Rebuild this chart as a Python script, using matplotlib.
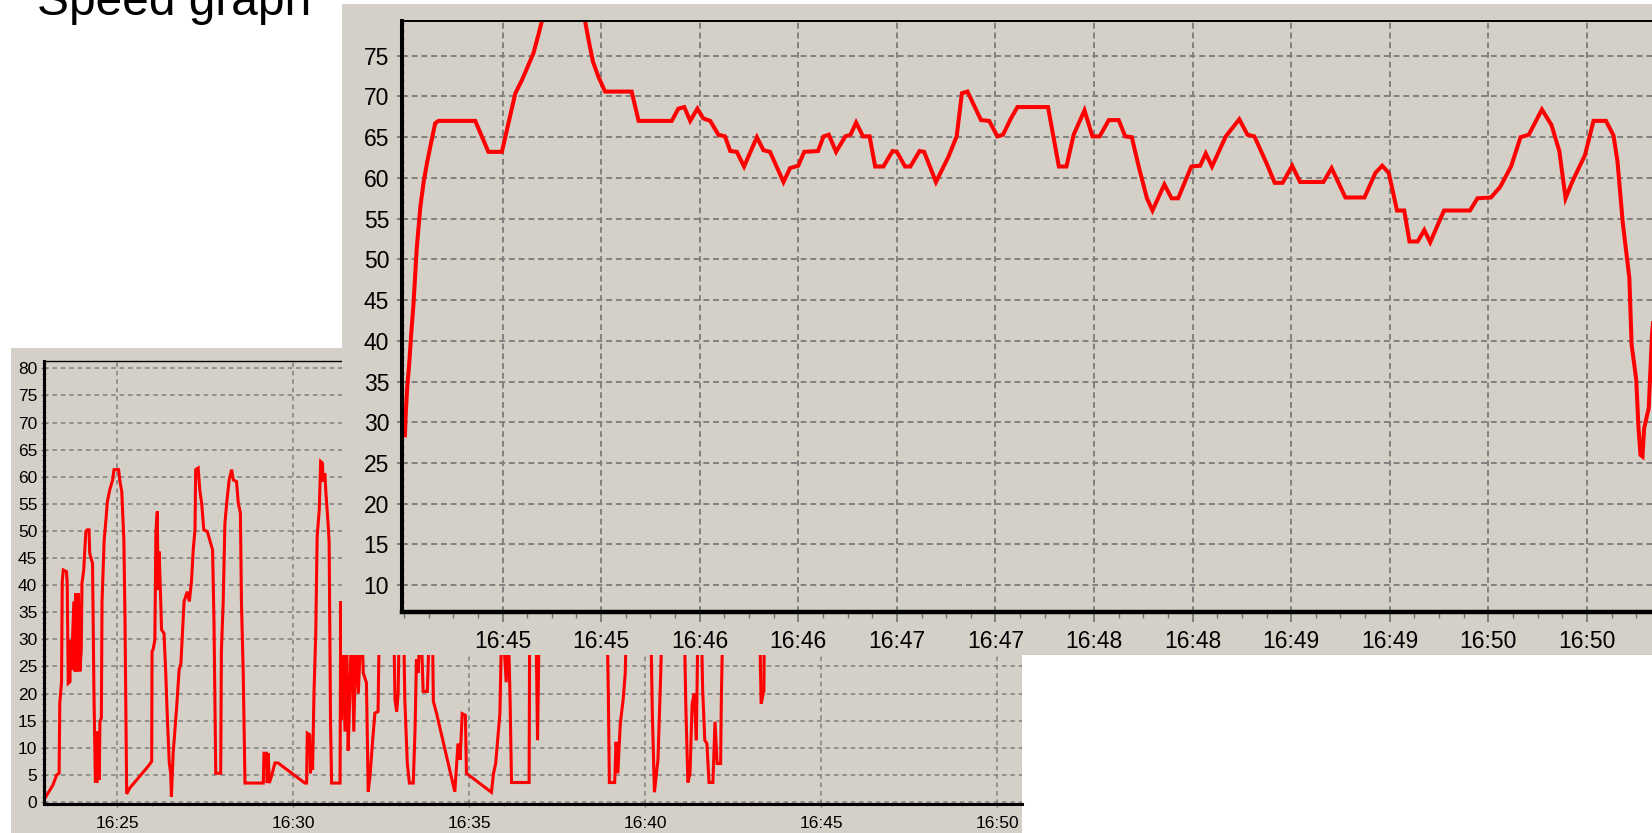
import matplotlib
matplotlib.use("Agg")
import matplotlib.pyplot as plt
from matplotlib.ticker import MultipleLocator, FixedLocator

# ---------------- data ----------------
# Overview chart: time in minutes after 16:00, speed
small_minutes = [22.93, 23.18, 23.28, 23.35, 23.37, 23.42, 23.44, 23.47, 23.56, 23.58,
                 23.61, 23.66, 23.67, 23.70, 23.73, 23.77, 23.80, 23.83, 23.86, 23.90,
                 23.94, 23.98, 24.00, 24.05, 24.11, 24.15, 24.20, 24.22, 24.30, 24.34,
                 24.38, 24.43, 24.45, 24.49, 24.51, 24.55, 24.57, 24.63, 24.68, 24.72,
                 24.79, 24.87, 24.91, 25.04, 25.08, 25.13, 25.19, 25.22, 25.27, 25.36,
                 25.88, 25.98, 25.99, 26.02, 26.07, 26.10, 26.14, 26.16, 26.19, 26.23,
                 26.26, 26.33, 26.38, 26.42, 26.48, 26.52, 26.54, 26.59, 26.64, 26.69,
                 26.76, 26.81, 26.86, 26.90, 26.99, 27.05, 27.11, 27.16, 27.21, 27.23,
                 27.30, 27.35, 27.40, 27.46, 27.56, 27.63, 27.71, 27.75, 27.80, 27.94,
                 27.96, 28.01, 28.06, 28.11, 28.18, 28.25, 28.30, 28.39, 28.44, 28.50,
                 28.53, 28.58, 28.63, 29.15, 29.17, 29.24, 29.26, 29.29, 29.32, 29.38,
                 29.48, 29.57, 30.33, 30.38, 30.40, 30.47, 30.49, 30.52, 30.55, 30.59,
                 30.64, 30.68, 30.74, 30.78, 30.83, 30.85, 30.90, 30.93, 30.99, 31.02,
                 31.06, 31.09, 31.33, 31.35, 31.37, 31.40, 31.47, 31.52, 31.56, 31.61,
                 31.66, 31.72, 31.78, 31.85, 31.94, 31.99, 32.08, 32.13, 32.18, 32.25,
                 32.32, 32.41, 32.46, 32.84, 32.89, 32.94, 32.98, 33.03, 33.13, 33.17,
                 33.24, 33.30, 33.41, 33.46, 33.50, 33.55, 33.62, 33.69, 33.81, 33.88,
                 33.96, 33.98, 34.07, 34.59, 34.68, 34.74, 34.80, 34.89, 34.92, 35.63,
                 35.69, 35.75, 35.87, 35.93, 36.05, 36.10, 36.16, 36.20, 36.70, 36.72,
                 36.88, 36.94, 37.00, 37.50, 38.30, 38.90, 38.95, 38.98, 39.13, 39.17,
                 39.22, 39.29, 39.37, 39.43, 39.49, 40.14, 40.20, 40.26, 40.36, 40.44,
                 40.50, 41.09, 41.15, 41.21, 41.27, 41.33, 41.39, 41.45, 41.51, 41.57,
                 41.63, 41.69, 41.75, 41.81, 41.92, 41.98, 42.04, 42.14, 42.16, 42.22,
                 43.23, 43.29, 43.37, 43.38]
small_speed = [0.5, 3.2, 5.0, 5.3, 18.2, 22.2, 40.7, 42.8, 42.5, 40.4,
               21.9, 22.2, 29.9, 24.4, 29.6, 37.0, 24.1, 38.5, 24.1, 38.5,
               24.1, 28.1, 40.4, 42.8, 49.9, 50.2, 50.2, 45.9, 44.0, 20.1,
               3.8, 3.8, 13.0, 4.1, 14.8, 15.5, 37.0, 48.3, 52.0, 55.4,
               57.6, 59.4, 61.3, 61.3, 59.1, 57.3, 48.3, 34.8, 1.5, 2.6,
               6.6, 7.5, 27.8, 28.1, 29.9, 49.9, 53.6, 39.1, 46.2, 38.5,
               31.8, 31.1, 23.8, 16.4, 7.2, 5.3, 1.0, 9.0, 13.3, 17.6,
               24.4, 25.6, 31.8, 37.0, 38.8, 37.0, 40.7, 46.5, 50.2, 61.3,
               61.6, 57.3, 55.1, 50.2, 49.9, 48.3, 46.5, 33.0, 5.3, 5.3,
               27.8, 36.7, 51.4, 55.1, 59.4, 61.3, 59.4, 59.1, 55.1, 53.3,
               36.7, 23.8, 3.5, 3.5, 9.0, 9.0, 3.5, 9.0, 3.5, 4.7,
               7.2, 7.2, 3.5, 3.5, 12.7, 12.4, 5.3, 10.8, 5.9, 20.1,
               31.1, 49.0, 53.9, 62.8, 62.5, 59.1, 60.6, 56.9, 51.4, 48.0,
               14.5, 3.5, 3.5, 37.0, 15.2, 35.0, 13.0, 30.0, 9.5, 20.0,
               35.0, 13.0, 30.0, 20.0, 35.0, 23.8, 22.0, 1.9, 4.7, 10.9,
               16.4, 16.7, 40.0, 40.0, 18.9, 16.7, 20.1, 40.0, 35.0, 18.9,
               7.2, 3.5, 3.5, 13.3, 26.3, 23.8, 35.0, 20.4, 20.4, 35.0,
               30.0, 18.6, 16.4, 1.9, 10.8, 7.8, 16.3, 16.0, 5.3, 1.8,
               5.3, 7.1, 16.3, 35.0, 22.1, 35.0, 18.8, 3.6, 3.6, 40.0,
               40.0, 11.4, 40.0, 50.0, 55.0, 40.0, 20.0, 3.6, 3.6, 11.1,
               5.3, 14.5, 18.8, 23.7, 40.0, 40.0, 16.3, 1.8, 7.8, 24.0,
               40.0, 40.0, 18.1, 3.6, 5.3, 18.1, 20.0, 11.4, 40.0, 40.0,
               20.6, 11.4, 10.8, 3.6, 3.6, 14.8, 7.1, 7.1, 18.8, 40.0,
               40.0, 18.1, 20.6, 40.0]
small_ticks = [25, 30, 35, 40, 45, 50]
small_ticklabels = ["16:25", "16:30", "16:35", "16:40", "16:45", "16:50"]
small_yticks = list(range(0, 81, 5))

# Zoomed chart: time in seconds after 16:45:00, speed
big_seconds = [-29.7, -29.4, -29.0, -28.4, -27.8, -27.1, -26.1, -25.0, -24.0, -23.0,
               -22.0, -20.5, -19.5, -8.3, -4.3, -0.2, 1.8, 3.9, 5.9, 9.4,
               11.0, 12.0, 15.0, 19.0, 23.0, 25.1, 26.2, 27.5, 29.2, 31.2,
               39.3, 41.4, 51.5, 53.5, 55.3, 57.1, 59.3, 61.1, 63.2, 65.7,
               67.7, 69.3, 71.3, 73.5, 77.4, 79.4, 81.4, 85.5, 87.5, 90.0,
               91.8, 96.0, 97.7, 99.3, 101.5, 104.3, 105.9, 107.6, 109.7, 111.7,
               113.4, 115.9, 118.7, 120.0, 122.5, 124.1, 126.9, 128.3, 131.9, 135.7,
               138.2, 139.8, 141.5, 145.6, 148.1, 150.6, 152.3, 154.7, 156.7, 166.0,
               169.3, 171.6, 173.8, 177.1, 179.5, 181.7, 184.5, 187.5, 189.5, 191.5,
               193.6, 196.1, 197.8, 201.4, 203.6, 205.6, 209.6, 212.3, 214.0, 215.9,
               220.1, 224.2, 226.7, 228.8, 232.5, 235.0, 237.4, 240.3, 242.7, 249.8,
               252.3, 256.5, 262.3, 265.6, 267.7, 269.7, 272.2, 274.4, 276.0, 278.5,
               280.5, 282.3, 286.5, 294.4, 296.7, 300.8, 303.6, 306.9, 309.8, 312.3,
               316.3, 319.2, 321.6, 323.5, 325.5, 329.4, 332.0, 335.8, 338.1, 339.3,
               340.9, 342.9, 343.6, 345.0, 345.7, 346.3, 346.9, 347.4, 348.8, 349.8,
               350.5]
big_speed = [28.4, 31.5, 34.3, 37.2, 40.8, 44.5, 51.4, 56.5, 59.5, 61.8,
             63.8, 66.7, 67.0, 67.0, 63.2, 63.2, 66.7, 70.4, 72.0, 75.3,
             77.7, 79.3, 83.0, 85.0, 82.5, 79.3, 76.9, 74.3, 72.4, 70.6,
             70.6, 67.0, 67.0, 68.5, 68.7, 67.0, 68.5, 67.3, 67.0, 65.3,
             65.1, 63.3, 63.2, 61.4, 65.0, 63.4, 63.2, 59.5, 61.2, 61.5,
             63.2, 63.3, 65.1, 65.3, 63.2, 65.1, 65.3, 66.8, 65.1, 65.1,
             61.4, 61.4, 63.3, 63.2, 61.4, 61.4, 63.3, 63.2, 59.5, 62.6,
             65.1, 70.4, 70.6, 67.1, 67.0, 65.1, 65.3, 67.3, 68.7, 68.7,
             61.4, 61.4, 65.3, 68.3, 65.1, 65.1, 67.1, 67.1, 65.1, 65.0,
             61.4, 57.5, 56.0, 59.2, 57.5, 57.5, 61.4, 61.5, 63.0, 61.4,
             65.1, 67.2, 65.3, 65.1, 61.8, 59.4, 59.4, 61.5, 59.5, 59.5,
             61.2, 57.6, 57.6, 60.6, 61.5, 60.6, 56.0, 56.0, 52.2, 52.2,
             53.6, 52.1, 56.0, 56.0, 57.5, 57.6, 58.9, 61.4, 65.0, 65.3,
             68.4, 66.5, 63.3, 57.5, 59.5, 62.8, 67.0, 67.0, 65.2, 62.0,
             54.5, 47.75, 39.5, 35.25, 29.25, 26.0, 25.8, 29.25, 31.75, 40.75,
             44.0]
big_ticks = [0, 30, 60, 90, 120, 150, 180, 210, 240, 270, 300, 330]
big_ticklabels = ["16:45", "16:45", "16:46", "16:46", "16:47", "16:47",
                  "16:48", "16:48", "16:49", "16:49", "16:50", "16:50"]
big_yticks = list(range(10, 80, 5))

title_text = "Speed graph"

# ---------------- layout ----------------
W, H = 1652, 833
fig = plt.figure(figsize=(W / 100, H / 100), dpi=100)
fig.patch.set_facecolor("white")
PANEL = "#D4D0C8"
GRID = "#808080"
RED = "#FF0000"
FONT = "Liberation Sans"


def rect(l, t, r, b):
    return [l / W, 1 - b / H, (r - l) / W, (b - t) / H]


def panel(box, z):
    a = fig.add_axes(rect(*box), zorder=z)
    a.set_facecolor(PANEL)
    a.set_xticks([])
    a.set_yticks([])
    for s in a.spines.values():
        s.set_visible(False)
    return a


# small overview panel
panel((10.5, 348, 1022, 833), 0)
axs = fig.add_axes(rect(44.3, 360.7, 1022, 804.2), zorder=1)
axs.set_facecolor(PANEL)
axs.plot(small_minutes, small_speed, color=RED, lw=2.2, solid_joinstyle="miter")
axs.set_xlim(22.93, 50.70)
axs.set_ylim(-0.4, 81.4)
axs.xaxis.set_major_locator(FixedLocator(small_ticks))
axs.set_xticklabels(small_ticklabels)
axs.xaxis.set_minor_locator(MultipleLocator(1))
axs.yaxis.set_major_locator(FixedLocator(small_yticks))
axs.yaxis.set_minor_locator(MultipleLocator(1))
axs.grid(True, which="major", color=GRID, linestyle=(0, (3, 2.5)), linewidth=1.1)
axs.set_axisbelow(True)
axs.spines["right"].set_visible(False)
axs.spines["left"].set_linewidth(2.2)
axs.spines["bottom"].set_linewidth(2.2)
axs.spines["top"].set_linewidth(1.0)
axs.tick_params(axis="y", which="major", direction="inout", length=5, width=1,
                color="#707070", labelsize=12.5, pad=2.5)
axs.tick_params(axis="x", which="major", direction="inout", length=5, width=1,
                color="#707070", labelsize=12.5, pad=6)
axs.tick_params(axis="both", which="minor", direction="inout", length=2.5, width=0.8,
                color="#707070")
for lab in axs.get_xticklabels() + axs.get_yticklabels():
    lab.set_fontfamily(FONT)

# big zoomed panel
panel((342, 4, 1652, 655), 2)
axb = fig.add_axes(rect(402.3, 20.7, 1652, 611.7), zorder=3)
axb.set_facecolor(PANEL)
axb.plot(big_seconds, big_speed, color=RED, lw=2.9, solid_joinstyle="miter")
axb.set_xlim(-30.5, 349.8)
axb.set_ylim(6.75, 79.3)
axb.xaxis.set_major_locator(FixedLocator(big_ticks))
axb.set_xticklabels(big_ticklabels)
axb.xaxis.set_minor_locator(MultipleLocator(7.5))
axb.yaxis.set_major_locator(FixedLocator(big_yticks))
axb.yaxis.set_minor_locator(MultipleLocator(1))
axb.grid(True, which="major", color=GRID, linestyle=(0, (3, 2)), linewidth=1.4)
axb.set_axisbelow(True)
axb.spines["right"].set_visible(False)
axb.spines["left"].set_linewidth(2.9)
axb.spines["bottom"].set_linewidth(3.2)
axb.spines["top"].set_linewidth(1.4)
axb.tick_params(axis="y", which="major", direction="inout", length=7, width=1.2,
                color="#707070", labelsize=16.5, pad=6)
axb.tick_params(axis="x", which="major", direction="out", length=7, width=1.2,
                color="#707070", labelsize=16.5, pad=6.5)
axb.tick_params(axis="y", which="minor", direction="inout", length=3, width=1,
                color="#707070")
axb.tick_params(axis="x", which="minor", direction="out", length=4, width=1,
                color="#707070")
for lab in axb.get_xticklabels() + axb.get_yticklabels():
    lab.set_fontfamily(FONT)

fig.text(37 / W, 1 - 15 / H, title_text, fontsize=34.5, family=FONT,
         ha="left", va="baseline", color="black")

fig.savefig("out.png", dpi=100, facecolor="white")
